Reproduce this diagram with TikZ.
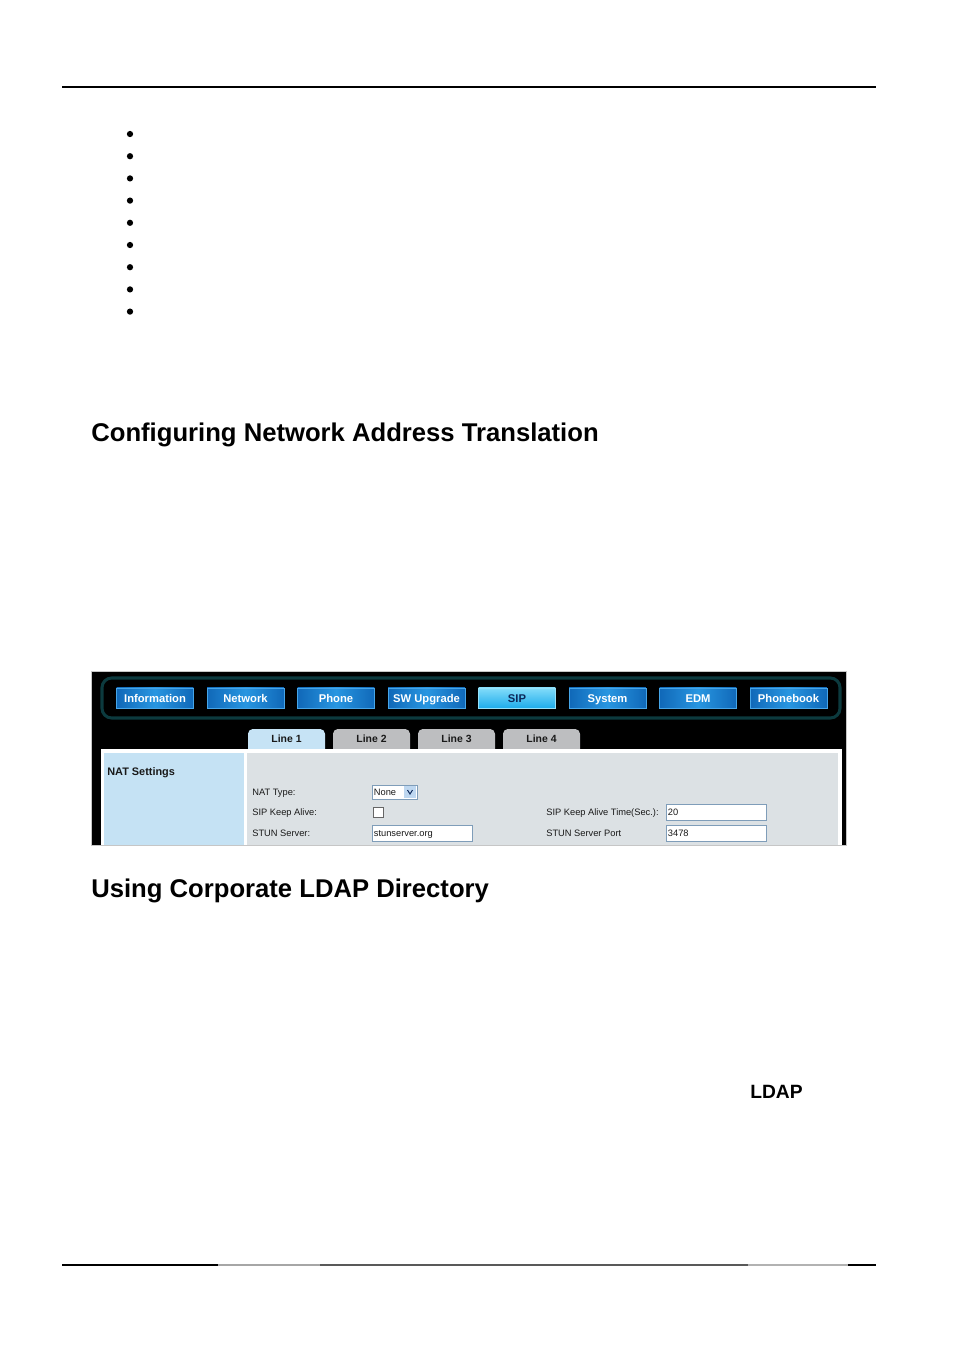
\documentclass[tikz,border=0pt]{standalone}
\usepackage{fontspec}
\setmainfont{Liberation Sans}
\usepackage{tikz}

\definecolor{btndark}{RGB}{16,104,184}
\definecolor{btnlight}{RGB}{40,150,225}
\definecolor{btnedge}{RGB}{70,165,232}
\definecolor{sipA}{RGB}{130,220,250}
\definecolor{sipB}{RGB}{30,172,235}
\definecolor{sipedge}{RGB}{150,225,250}
\definecolor{siptext}{RGB}{12,40,90}
\definecolor{navedge}{RGB}{12,58,62}
\definecolor{tabblue}{RGB}{198,227,245}
\definecolor{tabgray}{RGB}{189,190,192}
\definecolor{leftblue}{RGB}{197,226,244}
\definecolor{contgray}{RGB}{220,225,228}
\definecolor{fieldedge}{RGB}{127,157,185}
\definecolor{dropblue}{RGB}{190,215,240}
\definecolor{labeltext}{RGB}{25,25,25}

\newcommand\headfont{\bfseries\fontsize{16}{19}\selectfont}
\newcommand\btnfont{\bfseries\fontsize{7}{8}\selectfont}
\newcommand\uifont{\fontsize{5.8}{7}\selectfont}

\tikzset{
  heading/.style={anchor=base west, inner sep=0pt, font=\headfont},
  navbtn/.style={draw=btnedge, left color=btndark, right color=btndark, middle color=btnlight,
    text=white, font=\btnfont, minimum width=48pt, minimum height=12.5pt, inner sep=0pt,
    text height=5.1pt, text depth=0pt},
  navsel/.style={navbtn, draw=sipedge, top color=sipA, bottom color=sipB, text=siptext},
  tablbl/.style={font=\bfseries\fontsize{6.5}{7}\selectfont, text=labeltext, inner sep=0pt,
    text height=4.7pt, text depth=0pt},
  lbl/.style={anchor=west, inner sep=0pt, font=\uifont, text=labeltext,
    text height=4.2pt, text depth=0pt},
  field/.style={draw=fieldedge, fill=white, anchor=west, inner xsep=1pt, inner ysep=0pt,
    text width=60.4pt, minimum height=10pt, font=\uifont, text=labeltext,
    text height=4.2pt, text depth=0pt},
  chk/.style={draw=black!60, fill=white, minimum size=6.2pt, inner sep=0pt}
}

\begin{document}
\begin{tikzpicture}[x=0.6238pt,y=-0.6238pt]
\useasboundingbox[fill=white] (0,0) rectangle (954,1350);

\draw[line width=1.25pt] (62,87) -- (876,87);
\foreach \i in {0,...,8}
  \fill (130,{134+22.2*\i}) circle (1.95pt);

\node[heading] (nathead) at (91,441) {Configuring Network Address Translation};

% web page screenshot
\draw[gray!45, fill=black] (91,671) rectangle (846,845);
\draw[navedge, fill=black, line width=1.9pt, rounded corners=6pt] (102,678) rectangle (840,718);
\foreach \lbl/\sty [count=\i] in {Information/navbtn, Network/navbtn, Phone/navbtn, SW Upgrade/navbtn,
    SIP/navsel, System/navbtn, EDM/navbtn, Phonebook/navbtn}
  \node[\sty] (btn\i) at ({155+90.5*(\i-1)},698) {\lbl};

\foreach \t/\col in {1/tabblue, 2/tabgray, 3/tabgray, 4/tabgray} {
  \fill[\col] ({248+85*(\t-1)},749) [rounded corners=3pt] -- ++(0,-20) -- ++(77,0) [sharp corners] -- ++(0,20) -- cycle;
  \node[tablbl] (line\t) at ({286.5+85*(\t-1)},739) {Line \t};
}

\fill[white] (101,749) rectangle (842,845);
\fill[leftblue] (104,753) rectangle (244,845);
\fill[contgray] (247,753) rectangle (838,845);

\node[lbl, font=\bfseries\fontsize{6.8}{8}\selectfont, text height=4.9pt] (natset) at (107,772) {NAT Settings};
\node[lbl] (nattype) at (252,792) {NAT Type:};
\node[lbl] (keepalive) at (252,812) {SIP Keep Alive:};
\node[lbl] (stunsrv) at (252,833) {STUN Server:};
\node[lbl] (keeptime) at (546,812) {SIP Keep Alive Time(Sec.):};
\node[lbl] (stunport) at (546,833) {STUN Server Port};

\node[field, text width=26pt, minimum height=8.7pt] (natsel) at (372,792) {None};
\fill[dropblue] (404,786) rectangle (416,798);
\draw[siptext, line width=0.6pt] (407.5,790) -- (410,794) -- (412.5,790);
\node[chk] (keepchk) at (378,812) {};
\node[field] (stunval) at (372,833) {stunserver.org};
\node[field] (timeval) at (666,812) {20};
\node[field] (portval) at (666,833) {3478};

\node[heading] (ldaphead) at (91,897) {Using Corporate LDAP Directory};
\node[anchor=base west, inner sep=0pt, font=\bfseries\fontsize{12}{14}\selectfont] (ldap) at (750,1098) {LDAP};

\foreach \a/\b/\c in {62/218/black, 218/320/gray!70, 320/748/black!65, 748/848/gray!60, 848/876/black}
  \draw[\c, line width=0.9pt] (\a,1265) -- (\b,1265);
\end{tikzpicture}
\end{document}
